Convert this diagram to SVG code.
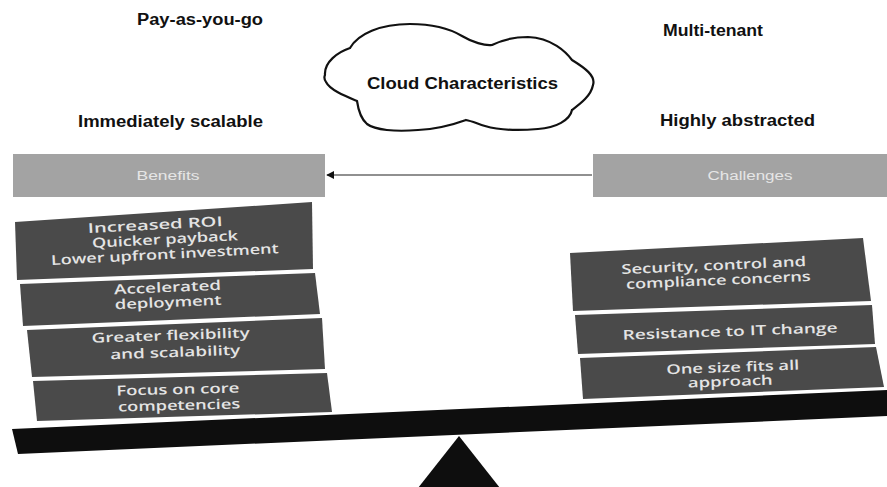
<svg xmlns="http://www.w3.org/2000/svg" width="887" height="487" viewBox="0 0 887 487">
<style>
.lbl{font-family:"Liberation Sans",Arial,sans-serif;font-weight:bold;font-size:16px;fill:#111}
.bar{fill:#a3a3a3}
.bartxt{font-family:"Liberation Sans",Arial,sans-serif;font-size:12px;fill:#e6e6e6;text-anchor:middle}
.box{fill:#4a4a4a}
.btxt{font-family:"Open Sans","Liberation Sans",Arial,sans-serif;font-size:13.5px;font-weight:600;fill:#e4e4e4;text-anchor:middle}
.ink{fill:#0e0e0e}
</style>
<defs>
<marker id="ah" viewBox="0 0 10 10" refX="9" refY="5" markerWidth="8" markerHeight="8" orient="auto-start-reverse" markerUnits="userSpaceOnUse">
<path d="M0,0 L10,5 L0,10 Z" fill="#111"/>
</marker>
</defs>
<rect width="887" height="487" fill="#ffffff"/>

<g id="label-payg"><text class="lbl" x="137" y="25" textLength="126" lengthAdjust="spacingAndGlyphs">Pay-as-you-go</text></g>
<g id="label-multitenant"><text class="lbl" x="663" y="36" textLength="100" lengthAdjust="spacingAndGlyphs">Multi-tenant</text></g>
<g id="label-scalable"><text class="lbl" x="78" y="127" textLength="185" lengthAdjust="spacingAndGlyphs">Immediately  scalable</text></g>
<g id="label-abstracted"><text class="lbl" x="660" y="126" textLength="155" lengthAdjust="spacingAndGlyphs">Highly  abstracted</text></g>

<g id="cloud">
<path d="M325,75 C324,62 338,52 350,48 C358,34 380,24 410,24 C435,24 452,30 462,36 C472,42 485,46 492,45 C498,42 510,37 528,37 C552,38 566,52 572,60 C585,68 596,76 593,85 C591,96 580,104 572,110 C570,120 556,128 538,129 C515,131 495,129 485,126 C478,124 472,121 466,120 C455,124 440,129 418,130 C395,132 375,130 367,124 C360,118 358,108 357,101 C345,96 330,90 326,82 C324,79 324,77 325,75 Z" fill="#ffffff" stroke="#111" stroke-width="2.2"/>
<text class="lbl" x="367" y="89" textLength="191" lengthAdjust="spacingAndGlyphs">Cloud  Characteristics</text>
</g>

<g id="bar-benefits">
<rect class="bar" x="13" y="154" width="312" height="43"/>
<text class="bartxt" x="168" y="180" textLength="63" lengthAdjust="spacingAndGlyphs">Benefits</text>
</g>
<g id="bar-challenges">
<rect class="bar" x="593" y="154" width="294" height="43"/>
<text class="bartxt" x="750" y="180" textLength="85" lengthAdjust="spacingAndGlyphs">Challenges</text>
</g>

<g id="connectors">
<line x1="592" y1="175" x2="327" y2="175" stroke="#222" stroke-width="1.2" marker-end="url(#ah)"/>
</g>

<g id="box-roi">
<polygon class="box" points="15,222 312,202 313,269 17,280"/>
<g transform="rotate(-3 164 240)">
<text class="btxt" x="156" y="229" textLength="135" lengthAdjust="spacingAndGlyphs">Increased ROI</text>
<text class="btxt" x="165" y="244" textLength="146" lengthAdjust="spacingAndGlyphs">Quicker payback</text>
<text class="btxt" x="164" y="259" textLength="228" lengthAdjust="spacingAndGlyphs">Lower upfront investment</text>
</g>
</g>
<g id="box-deploy">
<polygon class="box" points="20,284 315,273 320,314 23,326"/>
<g transform="rotate(-2.5 168 298)">
<text class="btxt" x="168" y="292" textLength="107" lengthAdjust="spacingAndGlyphs">Accelerated</text>
<text class="btxt" x="168" y="307" textLength="107" lengthAdjust="spacingAndGlyphs">deployment</text>
</g>
</g>
<g id="box-flex">
<polygon class="box" points="27,330 322,318 325,369 32,377"/>
<g transform="rotate(-2 173 345)">
<text class="btxt" x="171" y="340" textLength="158" lengthAdjust="spacingAndGlyphs">Greater flexibility</text>
<text class="btxt" x="175" y="357" textLength="130" lengthAdjust="spacingAndGlyphs">and scalability</text>
</g>
</g>
<g id="box-focus">
<polygon class="box" points="33,381 327,373 332,412 37,421"/>
<g transform="rotate(-1.5 178 398)">
<text class="btxt" x="178" y="394" textLength="123" lengthAdjust="spacingAndGlyphs">Focus on core</text>
<text class="btxt" x="179" y="410" textLength="122" lengthAdjust="spacingAndGlyphs">competencies</text>
</g>
</g>

<g id="box-security">
<polygon class="box" points="570,253 863,238 871,301 573,311"/>
<g transform="rotate(-2.5 716 272)">
<text class="btxt" x="714" y="270" textLength="185" lengthAdjust="spacingAndGlyphs">Security, control and</text>
<text class="btxt" x="718" y="285" textLength="185" lengthAdjust="spacingAndGlyphs">compliance concerns</text>
</g>
</g>
<g id="box-resistance">
<polygon class="box" points="575,315 872,305 875,344 578,354"/>
<g transform="rotate(-2 730 330)">
<text class="btxt" x="730" y="336" textLength="215" lengthAdjust="spacingAndGlyphs">Resistance to IT change</text>
</g>
</g>
<g id="box-onesize">
<polygon class="box" points="580,358 876,347 884,387 583,399"/>
<g transform="rotate(-2 731 374)">
<text class="btxt" x="733" y="372" textLength="133" lengthAdjust="spacingAndGlyphs">One size fits all</text>
<text class="btxt" x="730" y="386" textLength="85" lengthAdjust="spacingAndGlyphs">approach</text>
</g>
</g>

<g id="beam">
<polygon class="ink" points="12,429 887,390 887,416 18,454"/>
</g>
<g id="fulcrum">
<polygon class="ink" points="459,436 500,488 418,488"/>
</g>
</svg>
